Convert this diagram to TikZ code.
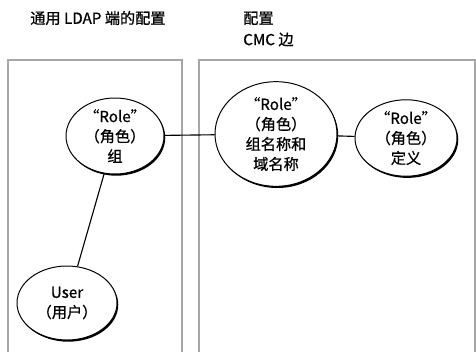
\documentclass[tikz,border=0pt]{standalone}
\usepackage{fontspec}
\setmainfont{Noto Sans CJK SC}[AutoFakeBold=0.8]
\usetikzlibrary{shapes.geometric,shadows}
\tikzset{
	role/.style = {ellipse, draw=black, line width=0.7pt, fill=white, inner sep=0pt, align=center,
		font=\fontsize{10.8}{14.2}\selectfont\bfseries,
		drop shadow={shadow xshift=0.9pt, shadow yshift=-1.2pt, opacity=1, fill=black}},
	side/.style = {draw=black!35, line width=1.4pt},
	title/.style = {anchor=west, align=left, inner sep=0pt, font=\fontsize{10.8}{14}\selectfont\bfseries}
}
\begin{document}
\begin{tikzpicture}
	\useasboundingbox (0,0) rectangle (11.9,8.8);
	% two sides
	\draw[side] (0.2,0) |- (4.55,7.3) -- (4.55,0);
	\draw[side] (4.975,0) |- (11.875,7.3) -- (11.875,0);
	\node (T1) at (0.75,8.35)	[title]	{通用 LDAP 端的配置};
	\node (T2) at (6.075,8.075)	[title]	{配置\\[1.2pt]CMC 边};
	% roles
	\node (RG) at ( 2.875, 5.4)	[role, minimum width=2.45cm, minimum height=1.9cm]	{“Role”\\（角色）\\组};
	\node (RN) at ( 6.9,   5.45)	[role, minimum width=3.05cm, minimum height=2.3cm]	{“Role”\\（角色）\\组名称和\\域名称};
	\node (RD) at (10.15,  5.35)	[role, minimum width=2.55cm, minimum height=1.85cm]	{“Role”\\（角色）\\定义};
	\node (U)  at ( 1.675, 1.225)	[role, minimum width=2.5cm,  minimum height=1.85cm]	{User\\（用户）};
	\draw[line width=0.8pt] (RG) -- (RN);
	\draw[line width=0.8pt] (RN) -- (RD);
	\draw[line width=0.8pt] (U) -- (RG);
\end{tikzpicture}
\end{document}
